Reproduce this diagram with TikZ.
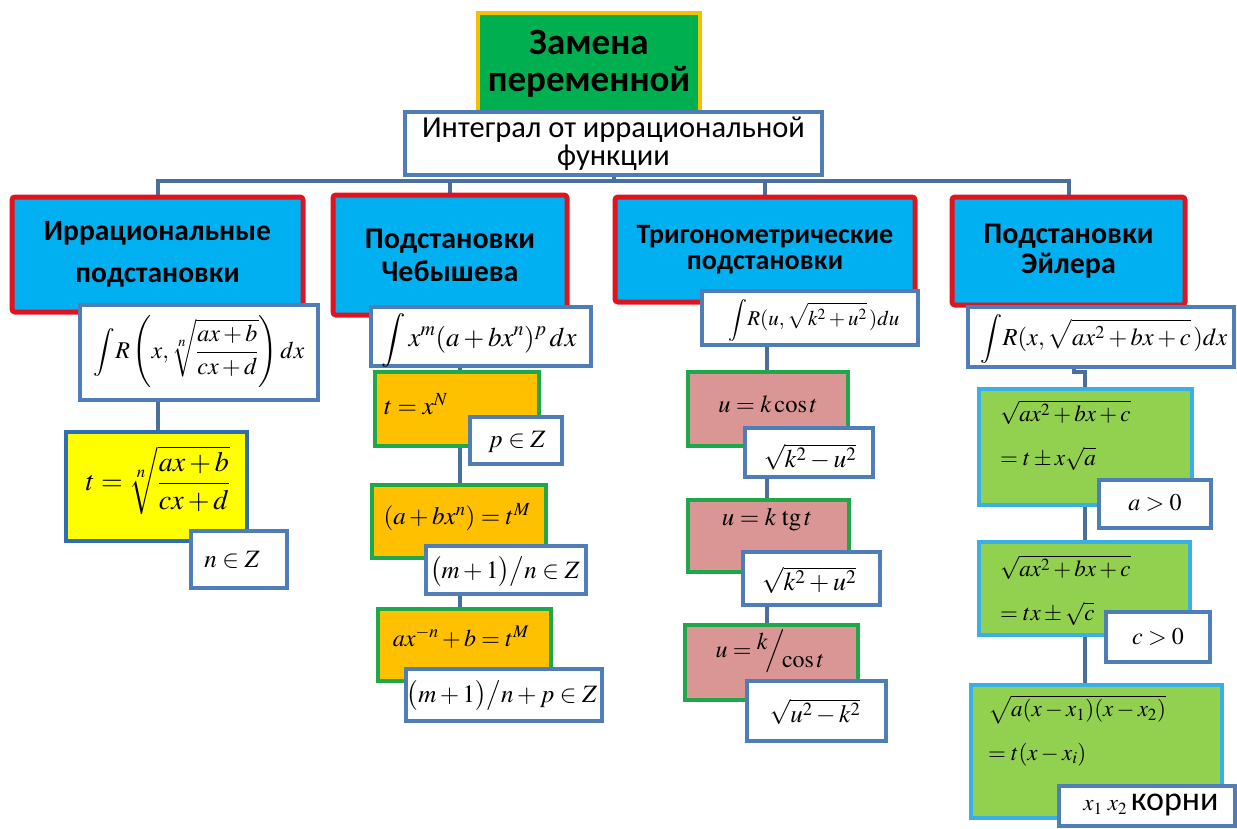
\documentclass[tikz,border=0pt]{standalone}
\usepackage{amsmath}
\usepackage{mathptmx}
\usepackage[no-math]{fontspec}
\setmainfont{Carlito}
\usetikzlibrary{backgrounds}
\definecolor{ttlgreen}{HTML}{00B050}
\definecolor{ttlgold}{HTML}{F5C000}
\definecolor{steel}{HTML}{4F7DB8}
\definecolor{conncol}{HTML}{4A6E9E}
\definecolor{hdrfill}{HTML}{00B0F0}
\definecolor{hdrred}{HTML}{E0141E}
\definecolor{yelfill}{HTML}{FFFF00}
\definecolor{ybord}{HTML}{2F6DB0}
\definecolor{orfill}{HTML}{FFC000}
\definecolor{grnbord}{HTML}{1FA84A}
\definecolor{pkfill}{HTML}{D99694}
\definecolor{lgfill}{HTML}{92D050}
\definecolor{lbbord}{HTML}{38B0E6}
\newcommand\myfs[2]{\fontsize{#1}{#2}\selectfont}
\newcommand\mkbox[6]{\node[#1, minimum width={#5-#3}, minimum height={#6-#4}] (#2) at ({(#3+#5)/2},{(#4+#6)/2}) {};}
\begin{document}
\begin{tikzpicture}[x=1pt,y=-1pt,
  ttl/.style={draw=ttlgold, fill=ttlgreen, line width=4pt, inner sep=0pt},
  subbox/.style={draw=steel, fill=white, line width=4pt, inner sep=0pt},
  hdr/.style={draw=hdrred, fill=hdrfill, line width=5pt, rounded corners=3pt, inner sep=0pt},
  frmbox/.style={draw=steel, fill=white, line width=4pt, inner sep=0pt},
  ybox/.style={draw=ybord, fill=yelfill, line width=4pt, inner sep=0pt},
  obox/.style={draw=grnbord, fill=orfill, line width=4pt, inner sep=0pt},
  pbox/.style={draw=grnbord, fill=pkfill, line width=4pt, inner sep=0pt},
  gbox/.style={draw=lbbord, fill=lgfill, line width=4pt, inner sep=0pt},
  conn/.style={draw=conncol, line width=4pt},
  txt/.style={inner sep=0pt}]
\useasboundingbox (0,0) rectangle (1237,828);
% title
\node[ttl, minimum width=222, minimum height=103, align=center,
  font={\myfs{37}{37}\bfseries}] (ttl) at (589,64) {Замена\\переменной};
\node[subbox, minimum width=417, minimum height=63, align=center,
  font={\myfs{30.5}{28}}] (sub) at (613.5,143.5) {Интеграл от иррациональной\\функции};
% headers
\node[hdr, minimum width=291, minimum height=115, align=center,
  font={\myfs{29.5}{42}\bfseries}] (b1) at (157.5,254.5) {Иррациональные\\подстановки};
\node[hdr, minimum width=234, minimum height=120, align=center,
  font={\myfs{30}{33}\bfseries}] (b2) at (450,255) {Подстановки\\Чебышева};
\node[hdr, minimum width=300, minimum height=105, align=center,
  font={\myfs{28}{26}\bfseries}] (b3) at (765,249.5) {Тригонометрические\\подстановки};
\node[hdr, minimum width=233, minimum height=108, align=center,
  font={\myfs{30}{30}\bfseries}] (b4) at (1068.5,251) {Подстановки\\Эйлера};
% column 1
\mkbox{frmbox}{f1}{80}{305}{318}{400}
\node[txt] (f1t) at (199,352) {\myfs{24}{28}$\displaystyle \int\! R\left(x,\sqrt[n]{\frac{ax+b}{cx+d}}\right)dx$};
\mkbox{ybox}{y1}{66}{432}{247}{541}
\node[txt] (y1t) at (158,480) {\myfs{28}{32}$t=\sqrt[n]{\dfrac{ax+b}{cx+d}}$};
\mkbox{frmbox}{c1}{191}{531}{287}{588}
\node[txt] (c1t) at (232,560) {\myfs{25}{28}$n\in Z$};
% column 2
\mkbox{frmbox}{f2}{371}{307}{591}{366}
\node[txt] (f2t) at (479,340) {\myfs{27}{30}$\displaystyle\int x^m(a+bx^n)^p\,dx$};
\mkbox{obox}{o1}{375}{372}{539}{446}
\node[txt] (o1t) at (416,404) {\myfs{25}{28}$t=x^N$};
\mkbox{frmbox}{c2}{470}{417}{562}{464}
\node[txt] (c2t) at (517,442) {\myfs{25}{28}$p\in Z$};
\mkbox{obox}{o2}{372}{485}{546}{558}
\node[txt] (o2t) at (457,517) {\myfs{25}{28}$(a+bx^n)=t^M$};
\mkbox{frmbox}{c3}{426}{546}{586}{594}
\node[txt] (c3t) at (505,572) {\myfs{25}{28}$\bigl(m+1\bigr)\big/n\in Z$};
\mkbox{obox}{o3}{378}{609}{551}{681}
\node[txt] (o3t) at (461,637) {\myfs{24}{28}$ax^{-n}+b=t^M$};
\mkbox{frmbox}{c4}{406}{669}{602}{721}
\node[txt] (c4t) at (502,696) {\myfs{25}{28}$\bigl(m+1\bigr)\big/n+p\in Z$};
% column 3
\mkbox{frmbox}{f3}{702}{291}{918}{345}
\node[txt] (f3t) at (814,320) {\myfs{21}{24}$\displaystyle\int\! R(u,\sqrt{k^2+u^2}\,)du$};
\mkbox{pbox}{p1}{688}{372}{848}{446}
\node[txt] (p1t) at (768,404) {\myfs{24.5}{28}$u=k\cos t$};
\mkbox{frmbox}{c5}{745}{428}{873}{477}
\node[txt] (c5t) at (810,457) {\myfs{25.5}{28}$\sqrt{k^2-u^2}$};
\mkbox{pbox}{p2}{688}{500}{849}{572}
\node[txt] (p2t) at (767,520) {\myfs{25}{28}$u=k\;\mathrm{tg}\,t$};
\mkbox{frmbox}{c6}{743}{552}{880}{605}
\node[txt] (c6t) at (809,580) {\myfs{26}{30}$\sqrt{k^2+u^2}$};
\mkbox{pbox}{p3}{685}{625}{858}{700}
\node[txt] (p3t) at (770,651) {\myfs{24}{28}$u=\raisebox{8pt}{$k$}\!\Big/\!\raisebox{-10pt}{$\cos t$}$};
\mkbox{frmbox}{c7}{747}{681}{886}{741}
\node[txt] (c7t) at (815,712) {\myfs{25}{28}$\sqrt{u^2-k^2}$};
% column 4
\mkbox{frmbox}{f4}{968}{307}{1234}{367}
\node[txt] (f4t) at (1104,339) {\myfs{24.5}{28}$\displaystyle\int\! R(x,\sqrt{ax^2+bx+c}\,)dx$};
\mkbox{gbox}{g1}{979}{389}{1192}{505}
\node[txt, anchor=north west] (g1a) at (1000,400) {\myfs{23}{26}$\sqrt{ax^2+bx+c}$};
\node[txt, anchor=base west] (g1b) at (1000,465) {\myfs{23}{26}$=t\pm x\sqrt{a}$};
\mkbox{frmbox}{c8}{1099}{480}{1211}{528}
\node[txt] (c8t) at (1155,503) {\myfs{24}{28}$a>0$};
\mkbox{gbox}{g2}{979}{542}{1190}{635}
\node[txt, anchor=north west] (g2a) at (1000,555) {\myfs{23}{26}$\sqrt{ax^2+bx+c}$};
\node[txt, anchor=base west] (g2b) at (1000,620) {\myfs{23}{26}$=tx\pm\sqrt{c}$};
\mkbox{frmbox}{c9}{1106}{612}{1210}{662}
\node[txt] (c9t) at (1158,637) {\myfs{24}{28}$c>0$};
\mkbox{gbox}{g3}{971}{685}{1222}{818}
\node[txt, anchor=north west] (g3a) at (988,695) {\myfs{23}{26}$\sqrt{a(x-x_1)(x-x_2)}$};
\node[txt, anchor=base west] (g3b) at (988,760) {\myfs{23}{26}$=t(x-x_i)$};
\mkbox{frmbox}{c10}{1059}{786}{1235}{826}
\node[txt] (c10t) at (1151,805) {\myfs{23}{26}$x_1\ x_2$\,{\myfs{34}{36}корни}};
% connectors
\begin{scope}[on background layer]
\coordinate (bus) at (0,181);
\draw[conn] (b1.north) -- (b1.north |- bus) -- (b4.north |- bus) -- (b4.north);
\draw[conn] (b2.north) -- (b2.north |- bus);
\draw[conn] (b3.north) -- (b3.north |- bus);
\draw[conn] (sub.south) -- (sub.south |- bus);
\draw[conn] (b1.south) -- (y1.north -| b1.south);
\coordinate (x2) at (460,0);
\draw[conn] (f2.south -| x2) -- (o3.north -| x2);
\coordinate (x3) at (767,0);
\draw[conn] (f3.south -| x3) -- (p3.north -| x3);
\coordinate (x4a) at (1074,0);
\coordinate (x4b) at (1085,0);
\coordinate (jog) at (0,372);
\draw[conn] (f4.south -| x4a) -- (jog -| x4a) -- (jog -| x4b) -- (g3.north -| x4b);
\end{scope}
\end{tikzpicture}
\end{document}
